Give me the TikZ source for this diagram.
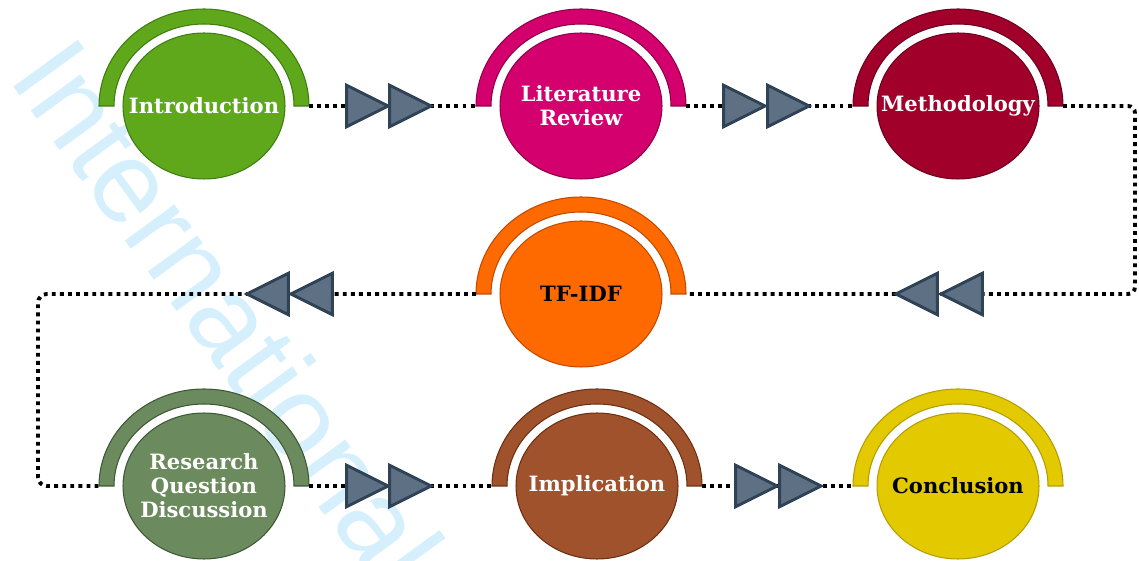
\documentclass[tikz,border=0pt]{standalone}
\usepackage{fontspec}
\setmainfont{DejaVu Serif}
\newfontfamily\wmfont{Liberation Sans}
\usepackage{tikz}
\usetikzlibrary{shapes.geometric,calc}
\definecolor{introfill}{HTML}{5FA81C}
\definecolor{introedge}{HTML}{3E7D12}
\definecolor{litfill}{HTML}{D4006E}
\definecolor{litedge}{HTML}{8E004A}
\definecolor{methfill}{HTML}{A0002A}
\definecolor{methedge}{HTML}{6E0020}
\definecolor{tffill}{HTML}{FF6A00}
\definecolor{tfedge}{HTML}{C24A00}
\definecolor{rqfill}{HTML}{6B8A5E}
\definecolor{rqedge}{HTML}{3D5834}
\definecolor{impfill}{HTML}{A0522D}
\definecolor{impedge}{HTML}{6B3010}
\definecolor{confill}{HTML}{E3C900}
\definecolor{conedge}{HTML}{B39D00}
\definecolor{slate}{HTML}{5E7184}
\definecolor{slatedark}{HTML}{2F4256}
\definecolor{wmcyan}{HTML}{D5F0FC}

% half ring over a stage, with its two end points
\newcommand{\halfring}[3]{%
  \coordinate (#1-l) at ($(#1.center)+(-105,0)$);
  \coordinate (#1-r) at ($(#1.center)+(105,0)$);
  \draw[ring,fill=#2,draw=#3] (#1-l) arc[start angle=180,end angle=0,x radius=105,y radius=97]
    -- ++(-15,0) arc[start angle=0,end angle=180,x radius=90,y radius=82] -- cycle;
}

\begin{document}
\begin{tikzpicture}[x=0.02cm,y=0.02cm,
  stage/.style={ellipse,minimum width=3.24cm,minimum height=2.92cm,inner sep=0pt,line width=0.6pt},
  lbl/.style={font=\bfseries\fontsize{12}{13.6}\selectfont,align=center,text=white,inner sep=0pt},
  ring/.style={line width=0.6pt},
  dots/.style={line width=2.2pt,dash pattern=on 2.2pt off 2.4pt},
  fwd/.style={isosceles triangle,isosceles triangle stretches,minimum width=0.83cm,
              minimum height=0.83cm,inner sep=0pt,fill=slate,draw=slatedark,line width=1.7pt,anchor=apex},
  bwd/.style={fwd,shape border rotate=180},
  wmark/.style={font=\wmfont\fontsize{66}{70}\selectfont,text=wmcyan,inner sep=0pt}
]
\useasboundingbox (0,0) rectangle (1139,561);
\begin{scope}
  \clip (0,0) rectangle (1139,561);
  \node[wmark,rotate=-54,anchor=base west] (wm) at (7,483) {International};
\end{scope}

% stages
\node[stage,fill=introfill,draw=introedge,label={[lbl]center:Introduction}] (intro) at (204,455) {};
\node[stage,fill=litfill,draw=litedge,label={[lbl]center:{Literature\\Review}}] (lit) at (581,455) {};
\node[stage,fill=methfill,draw=methedge,label={[lbl]center:Methodology}] (meth) at (958,455) {};
\node[stage,fill=tffill,draw=tfedge,label={[lbl,text=black]center:TF-IDF}] (tfidf) at (581,267) {};
\node[stage,fill=rqfill,draw=rqedge,label={[lbl]center:{Research\\Question\\Discussion}}] (rqd) at (204,75) {};
\node[stage,fill=impfill,draw=impedge,label={[lbl]center:Implication}] (impl) at (597,75) {};
\node[stage,fill=confill,draw=conedge,label={[lbl,text=black]center:Conclusion}] (concl) at (958,75) {};

\halfring{intro}{introfill}{introedge}
\halfring{lit}{litfill}{litedge}
\halfring{meth}{methfill}{methedge}
\halfring{tfidf}{tffill}{tfedge}
\halfring{rqd}{rqfill}{rqedge}
\halfring{impl}{impfill}{impedge}
\halfring{concl}{confill}{conedge}

% dotted path
\draw[dots] (intro-r) -- (lit-l);
\draw[dots] (lit-r) -- (meth-l);
\draw[dots,rounded corners=4pt] (meth-r) -- ++(72,0) |- (tfidf-r);
\draw[dots,rounded corners=5pt] (tfidf-l) -| ($(rqd-l)+(-61,0)$) -- (rqd-l);
\draw[dots] (rqd-r) -- (impl-l);
\draw[dots] (impl-r) -- (concl-l);

% arrow heads
\node[fwd] (a1) at (392,455) {};
\node[fwd] (a2) at (435,455) {};
\node[fwd] (a3) at (769,455) {};
\node[fwd] (a4) at (813,455) {};
\node[bwd] (a5) at (892,267) {};
\node[bwd] (a6) at (937,267) {};
\node[bwd] (a7) at (243,267) {};
\node[bwd] (a8) at (287,267) {};
\node[fwd] (a9) at (392,75) {};
\node[fwd] (a10) at (435,75) {};
\node[fwd] (a11) at (781,75) {};
\node[fwd] (a12) at (825,75) {};
\end{tikzpicture}
\end{document}
